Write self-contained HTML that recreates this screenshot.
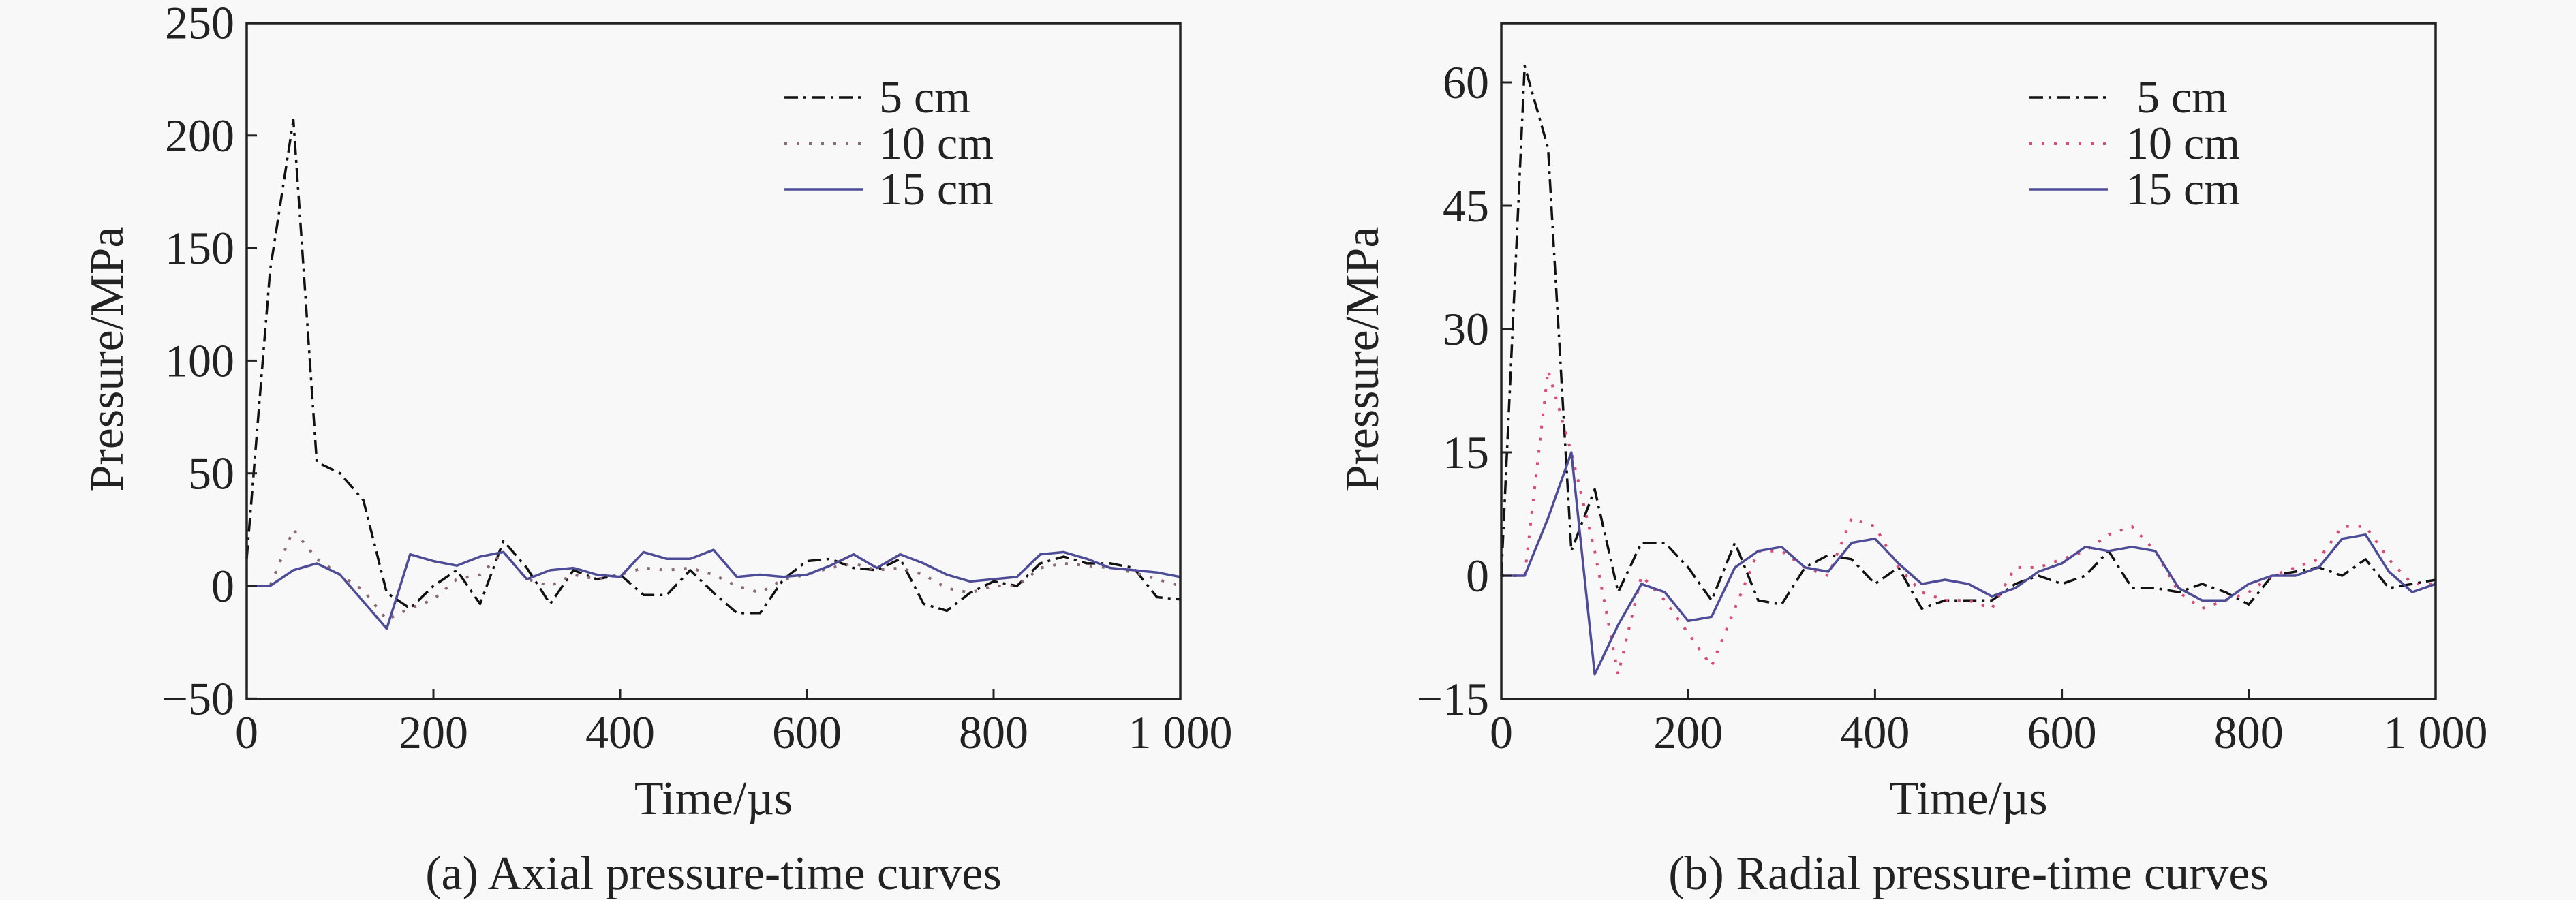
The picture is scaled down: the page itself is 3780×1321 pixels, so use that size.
<!DOCTYPE html>
<html><head><meta charset="utf-8">
<style>
html,body{margin:0;padding:0;background:#f8f8f8;}
svg{display:block;font-family:"Liberation Serif","Times New Roman",serif;}
</style></head>
<body>
<svg id="chart" width="3780" height="1321" viewBox="0 0 3780 1321" xmlns="http://www.w3.org/2000/svg">
<rect x="0" y="0" width="3780" height="1321" fill="#f8f8f8"/>
</svg>
<script>
const times = [0,25,50,75,100,125,150,175,200,225,250,275,300,325,350,375,400,425,450,475,500,525,550,575,600,625,650,675,700,725,750,775,800,825,850,875,900,925,950,975,1000];
const xTicks = [0,200,400,600,800,1000];
const xTickLabels = ["0","200","400","600","800","1 000"];
const axialTicks = [-50,0,50,100,150,200,250];
const axial5 = [12,140,207,55,50,38,-3,-10,0,7,-8,20,8,-8,7,3,5,-4,-4,7,-3,-12,-12,3,11,12,8,7,12,-8,-11,-3,2,0,10,13,10,10,8,-5,-6];
const axial10 = [0,0,25,12,5,-2,-15,-10,-6,3,5,15,3,0,5,3,5,8,7,8,5,0,-3,3,5,8,10,7,8,5,-1,-3,0,0,8,10,9,8,6,3,0];
const axial15 = [0,0,7,10,5,-7,-19,14,11,9,13,15,3,7,8,5,4,15,12,12,16,4,5,4,5,9,14,8,14,10,5,2,3,4,14,15,12,8,7,6,4];
const radialTicks = [-15,0,15,30,45,60];
const radial5 = [0,62,52,3,10.5,-2,4,4,1,-3,4,-3,-3.5,1,2.5,2,-1,1,-4,-3,-3,-3,-1,0,-1,0,3,-1.5,-1.5,-2,-1,-2,-3.5,0,0.5,1,0,2,-1.5,-1,-0.5];
const radial10 = [0,0,25,15,3,-12,0,-3,-7,-11,-4,3,3,1,0,7,6,1,-2,-3,-3,-4,1,1,2,3,5,6,3,-2,-4,-3,-2,0,1,2,6,6,2,-1,-1];
const radial15 = [0,0,7,15,-12,-6,-1,-2,-5.5,-5,1,3,3.5,1,0.5,4,4.5,1.5,-1,-0.5,-1,-2.5,-1.5,0.5,1.5,3.5,3,3.5,3,-1.5,-3,-3,-1,0,0,1,4.5,5,0.5,-2,-1];

const NS = "http://www.w3.org/2000/svg";
const svg = document.getElementById('chart');
function mk(tag, attrs, parent){ const e=document.createElementNS(NS,tag); for(const k in attrs) e.setAttribute(k,attrs[k]); (parent||svg).appendChild(e); return e; }

function panel(cfg){
  const g = mk('g',{});
  
  
  const xs = t => cfg.x0 + (t-0)/1000*(cfg.x1-cfg.x0);
  const ys = v => cfg.yZero - v*cfg.pxPer;
  cfg.series.forEach(s=>{
    const d = times.map((t,i)=>(i?'L':'M')+xs(t).toFixed(1)+' '+ys(s.vals[i]).toFixed(1)).join(' ');
    const p = mk('path',{d:d,fill:'none',stroke:s.color,'stroke-width':s.w,'stroke-dasharray':s.dash||'none','stroke-linejoin':'round'},g);
    
    
  });
  const fr = mk('rect',{x:cfg.x0,y:cfg.top,width:cfg.x1-cfg.x0,height:cfg.bottom-cfg.top,fill:'none',stroke:'#222','stroke-width':3.5},g);
  
  
  xTicks.forEach((t,i)=>{
    const x = xs(t);
    mk('line',{x1:x,x2:x,y1:cfg.bottom,y2:cfg.bottom-15,stroke:'#222','stroke-width':3},g);
    const tx = mk('text',{x:x,y:cfg.bottom+72,'font-size':68,'text-anchor':'middle',fill:'#222'},g);
    tx.textContent = xTickLabels[i];
    
    
  });
  cfg.yTicks.forEach(v=>{
    const y = ys(v);
    mk('line',{x1:cfg.x0,x2:cfg.x0+15,y1:y,y2:y,stroke:'#222','stroke-width':3},g);
    const tx = mk('text',{x:cfg.x0-18,y:y+23,'font-size':68,'text-anchor':'end',fill:'#222'},g);
    tx.textContent = v<0 ? '\u2212'+Math.abs(v) : String(v);
    
    
  });
  const xt = mk('text',{x:(cfg.x0+cfg.x1)/2,y:1195,'font-size':70,'text-anchor':'middle',fill:'#222'},g);
  xt.textContent = 'Time/\u00b5s';
  
  
  const yt = mk('text',{x:0,y:0,'font-size':70,'text-anchor':'middle',fill:'#222',transform:`translate(${cfg.ytX},527) rotate(-90)`},g);
  yt.textContent = 'Pressure/MPa';
  
  
  const cap = mk('text',{x:(cfg.x0+cfg.x1)/2,y:1305,'font-size':70,'text-anchor':'middle',fill:'#222'},g);
  cap.textContent = cfg.caption;
  
  
  const rows=[143,211,278];
  cfg.series.forEach((s,i)=>{
    const lg = mk('g',{},g);
    
    
    mk('line',{x1:cfg.legX,x2:cfg.legX+115,y1:rows[i],y2:rows[i],stroke:s.color,'stroke-width':s.w,'stroke-dasharray':s.dash||'none'},lg);
    const t = mk('text',{x:cfg.legTx[i],y:rows[i]+22,'font-size':68,fill:'#222'},lg);
    t.textContent = s.label;
  });
}

panel({name:'axial-panel',x0:362,x1:1732,top:34,bottom:1026,yZero:860,pxPer:165.3/50,yTicks:axialTicks,ytX:180,
  caption:'(a) Axial pressure-time curves',legX:1151,legTx:[1290,1290,1290],
  series:[
    {id:'series-5cm',label:'5 cm',vals:axial5,color:'#111',w:3.5,dash:'20 8 4 8'},
    {id:'series-10cm',label:'10 cm',vals:axial10,color:'#8a6a78',w:4,dash:'4 14'},
    {id:'series-15cm',label:'15 cm',vals:axial15,color:'#4e4c96',w:3.5}
  ]});
panel({name:'radial-panel',x0:2203,x1:3574,top:34,bottom:1026,yZero:845,pxPer:181/15,yTicks:radialTicks,ytX:2022,
  caption:'(b) Radial pressure-time curves',legX:2978,legTx:[3135,3119,3119],
  series:[
    {id:'series-5cm',label:'5 cm',vals:radial5,color:'#111',w:3.5,dash:'20 8 4 8'},
    {id:'series-10cm',label:'10 cm',vals:radial10,color:'#d84a78',w:4,dash:'4 14'},
    {id:'series-15cm',label:'15 cm',vals:radial15,color:'#4e4c96',w:3.5}
  ]});
</script>
</body></html>
